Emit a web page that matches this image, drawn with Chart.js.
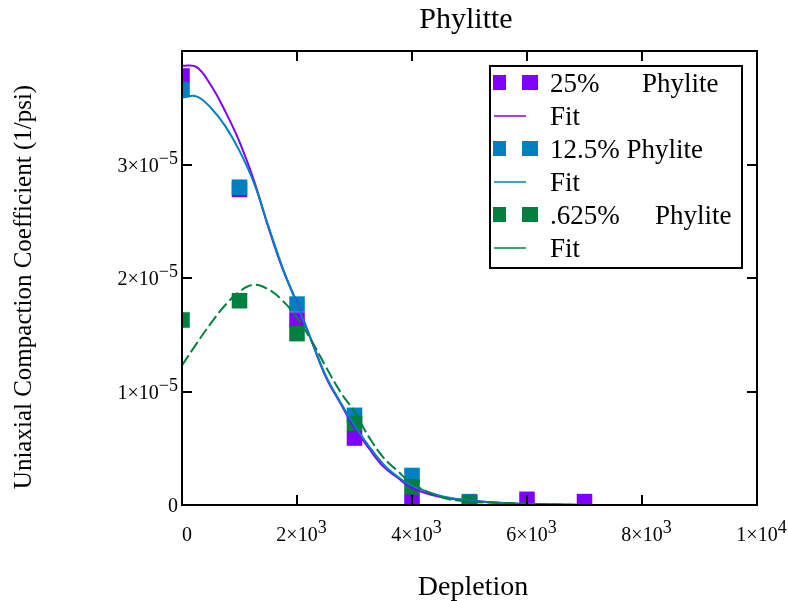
<!DOCTYPE html>
<html>
<head>
<meta charset="utf-8">
<script src="https://cdn.jsdelivr.net/npm/chart.js@4/dist/chart.umd.min.js"></script>
<style>
  html, body { margin: 0; padding: 0; background: #fff; }
</style>
</head>
<body>
<canvas id="chart" width="788" height="601"></canvas>
<script>
// measured points (depletion vs compaction coefficient, 1/psi)
const depletion = [0, 1000, 2000, 3000, 4000, 5000, 6000, 7000];
const phy25 = [3.78e-5, 2.78e-5, 1.63e-5, 0.59e-5, 0.03e-5, 0.02e-5, 0.05e-5, 0.03e-5];
const phy125 = [3.66e-5, 2.80e-5, 1.77e-5, 0.79e-5, 0.26e-5, 0.03e-5];
const phy0625 = [1.63e-5, 1.80e-5, 1.51e-5, 0.72e-5, 0.16e-5, 0.02e-5];

// fit curves (units of 1e-5)
const fitX = [0, 250, 500, 750, 1000, 1250, 1500, 1750, 2000, 2250, 2500, 2750, 3000, 3250, 3500, 3750, 4000, 4500, 5000, 5500, 6000, 7000, 8000, 9000, 10000];
const fit25 = [3.87, 3.86, 3.70, 3.47, 3.20, 2.86, 2.45, 2.08, 1.78, 1.45, 1.13, 0.90, 0.68, 0.50, 0.34, 0.24, 0.15, 0.07, 0.04, 0.02, 0.01, 0, 0, 0, 0];
const fit125 = [3.59, 3.60, 3.50, 3.34, 3.12, 2.84, 2.46, 2.09, 1.77, 1.45, 1.14, 0.91, 0.70, 0.52, 0.36, 0.25, 0.17, 0.08, 0.04, 0.02, 0.01, 0, 0, 0, 0];
const fit0625 = [1.23, 1.42, 1.60, 1.76, 1.88, 1.94, 1.90, 1.80, 1.65, 1.45, 1.22, 1.00, 0.82, 0.60, 0.42, 0.30, 0.19, 0.07, 0.03, 0.02, 0.01, 0, 0, 0, 0];

// tick labels: [mantissa, exponent]
const xTicks = [0, 2000, 4000, 6000, 8000, 10000];
const xTickLabels = [["0", ""], ["2\u00d710", "3"], ["4\u00d710", "3"], ["6\u00d710", "3"], ["8\u00d710", "3"], ["1\u00d710", "4"]];
const yTicks = [0, 1e-5, 2e-5, 3e-5];
const yTickLabels = [["0", ""], ["1\u00d710", "\u22125"], ["2\u00d710", "\u22125"], ["3\u00d710", "\u22125"]];

const legendLabels = [["25%", "Phylite"], ["Fit", ""], ["12.5% Phylite", ""], ["Fit", ""], [".625%", "Phylite"], ["Fit", ""]];

const PURPLE = "#8000ff";
const BLUE = "#0080c0";
const GREEN = "#008040";
const SERIF = "'Liberation Serif', 'Times New Roman', serif";

function pts(xs, ys, scale) {
  return ys.map((v, i) => ({ x: xs[i], y: v * (scale || 1) }));
}

function drawSci(ctx, mant, exp, x, y, align) {
  ctx.font = "20px " + SERIF;
  const wm = ctx.measureText(mant).width;
  ctx.font = "18px " + SERIF;
  const we = exp ? ctx.measureText(exp).width : 0;
  let left;
  if (align === "right") left = x - wm - we;
  else left = x - wm / 2;
  ctx.textAlign = "left";
  ctx.textBaseline = "alphabetic";
  ctx.font = "20px " + SERIF;
  ctx.fillText(mant, left, y);
  if (exp) {
    ctx.font = "18px " + SERIF;
    ctx.fillText(exp, left + wm, y - 8);
  }
}

const framePlugin = {
  id: "frame",
  afterDraw(chart) {
    const ctx = chart.ctx;
    const a = chart.chartArea;
    const xs = chart.scales.x;
    const ys = chart.scales.y;
    ctx.save();
    ctx.fillStyle = "#000";
    ctx.strokeStyle = "#000";
    ctx.lineWidth = 2;
    ctx.strokeRect(a.left, a.top, a.right - a.left, a.bottom - a.top);

    // inward ticks on all four sides
    ctx.beginPath();
    xTicks.forEach(t => {
      const px = Math.round(xs.getPixelForValue(t));
      ctx.moveTo(px, a.bottom); ctx.lineTo(px, a.bottom - 10);
      ctx.moveTo(px, a.top); ctx.lineTo(px, a.top + 10);
    });
    yTicks.forEach(t => {
      const py = Math.round(ys.getPixelForValue(t));
      ctx.moveTo(a.left, py); ctx.lineTo(a.left + 10, py);
      ctx.moveTo(a.right, py); ctx.lineTo(a.right - 10, py);
    });
    ctx.stroke();

    // tick labels
    xTicks.forEach((t, i) => {
      const px = xs.getPixelForValue(t);
      drawSci(ctx, xTickLabels[i][0], xTickLabels[i][1], px + (i === 0 ? 5 : 0), a.bottom + 36, "center");
    });
    yTicks.forEach((t, i) => {
      const py = ys.getPixelForValue(t);
      drawSci(ctx, yTickLabels[i][0], yTickLabels[i][1], a.left - 4, py + 7, "right");
    });

    // titles
    ctx.textAlign = "center";
    ctx.textBaseline = "alphabetic";
    ctx.font = "30px " + SERIF;
    ctx.fillText("Phylitte", 466, 28);
    ctx.font = "28px " + SERIF;
    ctx.fillText("Depletion", 473, 595);
    ctx.save();
    ctx.translate(31, 287);
    ctx.rotate(-Math.PI / 2);
    ctx.font = "25px " + SERIF;
    ctx.fillText("Uniaxial Compaction Coefficient (1/psi)", 0, 0);
    ctx.restore();

    // legend
    const lx = 490, ly = 66, lw = 252, lh = 202;
    ctx.fillStyle = "#fff";
    ctx.fillRect(lx, ly, lw, lh);
    ctx.lineWidth = 2;
    ctx.strokeStyle = "#000";
    ctx.strokeRect(lx, ly, lw, lh);
    const cols = [PURPLE, PURPLE, BLUE, BLUE, GREEN, GREEN];
    ctx.font = "27px " + SERIF;
    ctx.textAlign = "left";
    ctx.textBaseline = "alphabetic";
    for (let i = 0; i < 6; i++) {
      const cy = ly + 17 + i * 33;
      if (i % 2 === 0) {
        ctx.fillStyle = cols[i];
        ctx.fillRect(493, cy - 8, 13, 15);
        ctx.fillRect(522, cy - 8, 16, 15);
      } else {
        ctx.strokeStyle = cols[i];
        ctx.lineWidth = 1.5;
        ctx.beginPath();
        ctx.moveTo(494, cy);
        ctx.lineTo(526, cy);
        ctx.stroke();
      }
      ctx.fillStyle = "#000";
      ctx.fillText(legendLabels[i][0], 550, cy + 9);
      if (legendLabels[i][1]) {
        ctx.fillText(legendLabels[i][1], i === 0 ? 642 : 655, cy + 9);
      }
    }
    ctx.restore();
  }
};

function pointSet(label, data, color, order) {
  return {
    type: "scatter",
    label: label,
    data: pts(depletion, data),
    backgroundColor: color,
    borderWidth: 0,
    pointStyle: "rect",
    pointRadius: 11,
    order: order
  };
}

function fitSet(data, color, order, dash) {
  return {
    type: "line",
    label: "Fit",
    data: pts(fitX, data, 1e-5),
    borderColor: color,
    borderWidth: 2,
    borderDash: dash || [],
    pointRadius: 0,
    tension: 0.4,
    fill: false,
    order: order
  };
}

new Chart(document.getElementById("chart"), {
  type: "scatter",
  data: {
    datasets: [
      pointSet("25% Phylite", phy25, PURPLE, 6),
      fitSet(fit25, PURPLE, 3),
      pointSet("12.5% Phylite", phy125, BLUE, 5),
      fitSet(fit125, BLUE, 2),
      pointSet(".625% Phylite", phy0625, GREEN, 4),
      fitSet(fit0625, GREEN, 1, [12, 4])
    ]
  },
  options: {
    responsive: false,
    animation: false,
    layout: {
      padding: { left: 182, top: 51, right: 31, bottom: 96 }
    },
    scales: {
      x: { type: "linear", min: 0, max: 10000, display: false },
      y: { type: "linear", min: 0, max: 4e-5, display: false }
    },
    plugins: {
      legend: { display: false },
      tooltip: { enabled: false }
    }
  },
  plugins: [framePlugin]
});
</script>
</body>
</html>
